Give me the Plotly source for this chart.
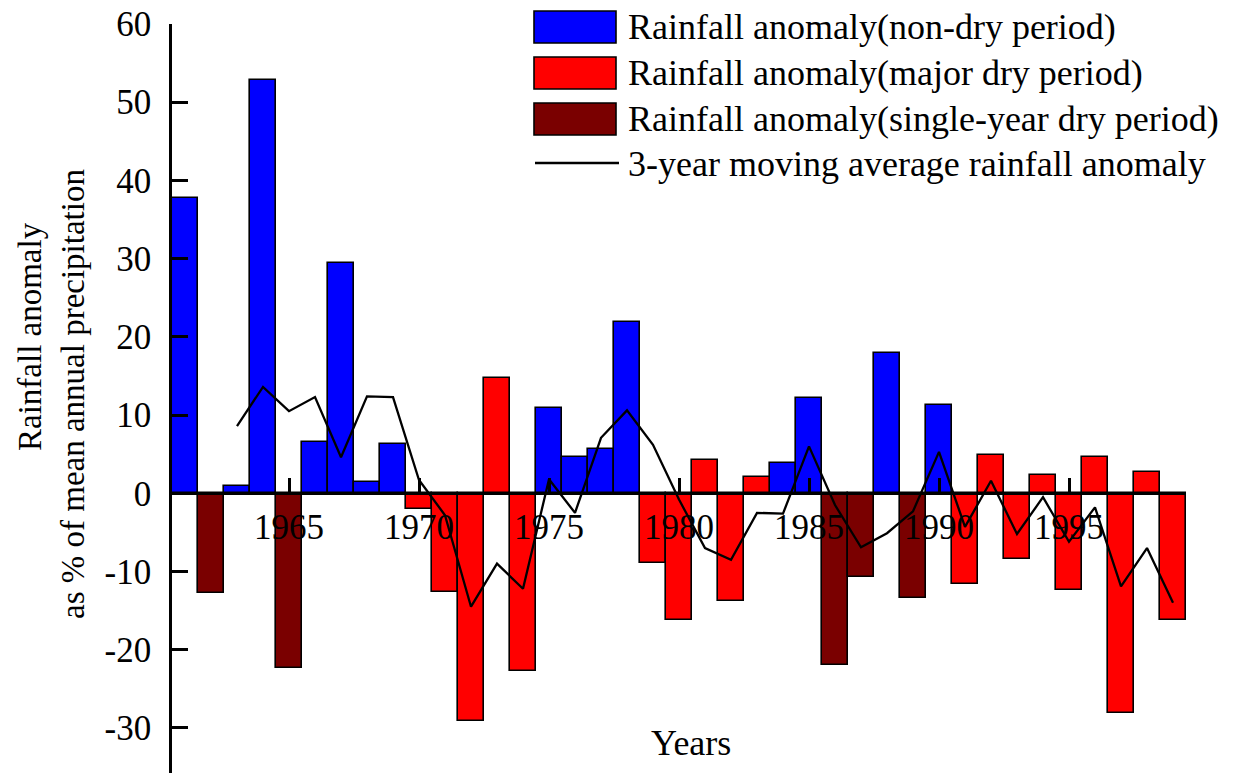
import plotly.graph_objects as go

# Annual rainfall anomaly (% of mean annual precipitation)
years = list(range(1961, 2000))
anomaly = [
    37.7, -12.7, 0.9, 52.8, -22.3, 6.5, 29.5, 1.4, 6.3, -2.0,
    -12.6, -29.1, 14.8, -22.7, 10.9, 4.7, 5.7, 21.9, -8.9, -16.2,
    4.3, -13.8, 2.1, 3.9, 12.2, -22.0, -10.7, 17.9, -13.4, 11.3,
    -11.6, 4.9, -8.4, 2.3, -12.3, 4.7, -28.1, 2.7, -16.2,
]
# N = non-dry period, M = major dry period, S = single-year dry period
period = [
    "N", "S", "N", "N", "S", "N", "N", "N", "N", "M",
    "M", "M", "M", "M", "N", "N", "N", "N", "M", "M",
    "M", "M", "M", "N", "N", "S", "S", "N", "S", "N",
    "M", "M", "M", "M", "M", "M", "M", "M", "M",
]

# 3-year moving average of the anomaly
ma_years = list(range(1963, 2000))
ma_values = [
    8.6, 13.6, 10.5, 12.3, 4.6, 12.4, 12.3, 1.7, -2.8, -14.5,
    -9.0, -12.2, 1.8, -2.5, 7.1, 10.6, 6.2, -0.8, -7.0, -8.5,
    -2.5, -2.6, 6.0, -1.5, -6.9, -5.1, -2.3, 5.3, -4.3, 1.6,
    -5.2, -0.5, -6.2, -1.8, -11.9, -7.0, -14.0,
]

series_names = {
    "N": "Rainfall anomaly(non-dry period)",
    "M": "Rainfall anomaly(major dry period)",
    "S": "Rainfall anomaly(single-year dry period)",
}
line_name = "3-year moving average rainfall anomaly"
x_ticks = [1965, 1970, 1975, 1980, 1985, 1990, 1995]
y_ticks = [-30, -20, -10, 0, 10, 20, 30, 40, 50, 60]

colors = {"N": "#0000FF", "M": "#FF0000", "S": "#7A0000"}
FONT = "Times New Roman, Liberation Serif, serif"

W, H = 1244, 774
ML, MR, MT, MB = 172, 58, 24, 1
Y_MIN, Y_MAX = -35.76, 60


def px_x(px):
    return (px - ML) / (W - ML - MR)


def px_y(py):
    return (H - MB - py) / (H - MT - MB)


fig = go.Figure()

for key in ["N", "M", "S"]:
    xs = [y for y, p in zip(years, period) if p == key]
    vs = [v for v, p in zip(anomaly, period) if p == key]
    fig.add_trace(go.Bar(
        x=xs, y=vs, width=1, name=series_names[key],
        marker=dict(color=colors[key], line=dict(color="black", width=1.6)),
        showlegend=False,
    ))

fig.add_trace(go.Scatter(
    x=ma_years, y=ma_values, mode="lines", name=line_name,
    line=dict(color="black", width=2.3), showlegend=False,
))

# Legend drawn as swatches + labels
shapes = []
annotations = []
rows = [(27, "N"), (73, "M"), (119, "S")]
for cy, key in rows:
    shapes.append(dict(
        type="rect", xref="paper", yref="paper",
        x0=px_x(534), x1=px_x(616), y0=px_y(cy - 16), y1=px_y(cy + 16),
        fillcolor=colors[key], line=dict(color="black", width=1.6),
    ))
    annotations.append(dict(
        x=px_x(626), y=px_y(cy), xref="paper", yref="paper",
        xanchor="left", yanchor="middle", showarrow=False,
        text=series_names[key], font=dict(family=FONT, size=36, color="black"),
    ))
shapes.append(dict(
    type="line", xref="paper", yref="paper",
    x0=px_x(535), x1=px_x(619), y0=px_y(163), y1=px_y(163),
    line=dict(color="black", width=2.5),
))
annotations.append(dict(
    x=px_x(626), y=px_y(164), xref="paper", yref="paper",
    xanchor="left", yanchor="middle", showarrow=False,
    text=line_name, font=dict(family=FONT, size=36, color="black"),
))

# Axis titles
annotations.append(dict(
    x=px_x(691), y=px_y(743), xref="paper", yref="paper",
    xanchor="center", yanchor="middle", showarrow=False,
    text="Years", font=dict(family=FONT, size=36, color="black"),
))
annotations.append(dict(
    x=px_x(30), y=px_y(337), xref="paper", yref="paper",
    xanchor="center", yanchor="middle", showarrow=False, textangle=-90,
    text="Rainfall anomaly", font=dict(family=FONT, size=33, color="black"),
))
annotations.append(dict(
    x=px_x(73), y=px_y(394), xref="paper", yref="paper",
    xanchor="center", yanchor="middle", showarrow=False, textangle=-90,
    text="as % of mean annual precipitation", font=dict(family=FONT, size=33, color="black"),
))

fig.update_layout(
    width=W, height=H,
    margin=dict(l=ML, r=MR, t=MT, b=MB),
    paper_bgcolor="white", plot_bgcolor="white",
    barmode="overlay", bargap=0,
    font=dict(family=FONT, color="black"),
    shapes=shapes, annotations=annotations,
    xaxis=dict(
        range=[1960.5, 1999.5], anchor="free",
        position=-Y_MIN / (Y_MAX - Y_MIN),
        tickvals=x_ticks, ticktext=[str(t) for t in x_ticks],
        ticks="inside", ticklen=15, tickwidth=2.5, tickcolor="black",
        showline=True, linewidth=2.5, linecolor="black",
        showgrid=False, zeroline=False,
        tickfont=dict(family=FONT, size=35, color="black"),
        ticklabelstandoff=2,
    ),
    yaxis=dict(
        range=[Y_MIN, Y_MAX], domain=[0, 1],
        tickvals=y_ticks, ticktext=[str(t) for t in y_ticks],
        ticks="inside", ticklen=16, tickwidth=2.5, tickcolor="black",
        showline=True, linewidth=2.5, linecolor="black",
        showgrid=False, zeroline=False,
        tickfont=dict(family=FONT, size=35, color="black"),
        ticklabelstandoff=11,
    ),
)

fig.write_html("out.html")
